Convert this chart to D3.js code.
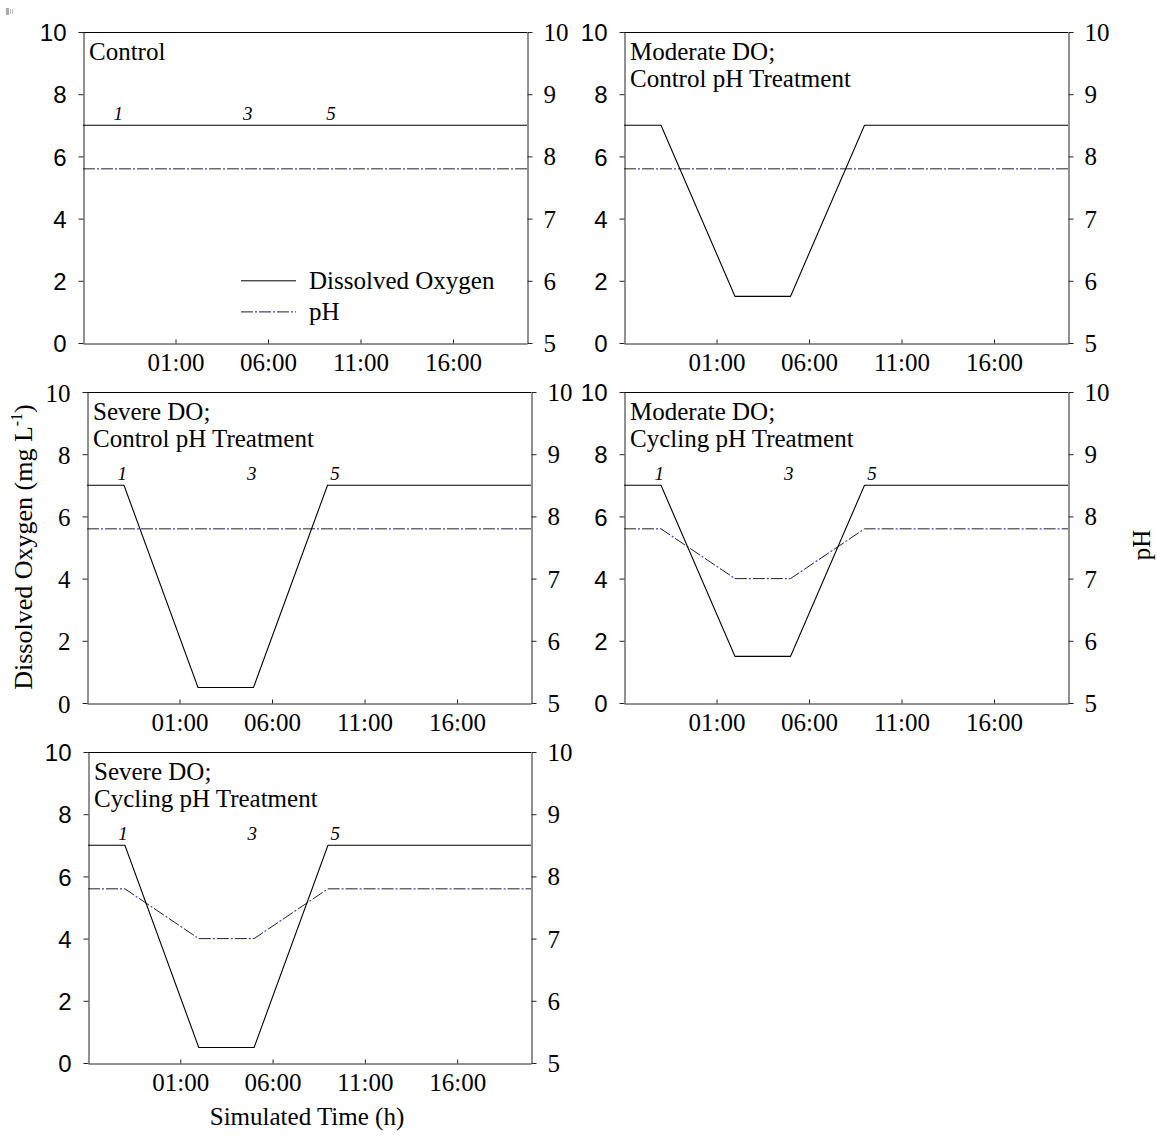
<!DOCTYPE html>
<html><head><meta charset="utf-8">
<script src="https://cdn.jsdelivr.net/npm/d3@7"></script>
<style>body{margin:0;background:#fff}svg{display:block}</style>
</head><body>
<svg id="c" width="1157" height="1135"></svg>
<script>
// ---- data ----
const hoursFromStart = [0, 2, 6, 9, 13, 24];           // hours after 20:00
const doControl  = [7, 7, 7, 7, 7, 7];
const doModerate = [7, 7, 1.5, 1.5, 7, 7];
const doSevere   = [7, 7, 0.5, 0.5, 7, 7];
const phControl  = [7.8, 7.8, 7.8, 7.8, 7.8, 7.8];
const phCycling  = [7.8, 7.8, 7.0, 7.0, 7.8, 7.8];
const sampleLabels = ["1", "3", "5"];
const sampleHours  = [1.9, 8.9, 13.4];
const doTicks = [0, 2, 4, 6, 8, 10];
const phTicks = [5, 6, 7, 8, 9, 10];
const timeTickLabels = ["01:00", "06:00", "11:00", "16:00"];
const timeTickHours  = [5, 10, 15, 20];
const panelTitles = [["Control"], ["Moderate DO;", "Control pH Treatment"], ["Severe DO;", "Control pH Treatment"], ["Moderate DO;", "Cycling pH Treatment"], ["Severe DO;", "Cycling pH Treatment"]];
const legendLabels = ["Dissolved Oxygen", "pH"];

const panels = [
  {box:[83,527,32,343],   dox:doControl,  ph:phControl, title:panelTitles[0], samples:true,  leftFont:"sans"},
  {box:[624,1068,32,343], dox:doModerate, ph:phControl, title:panelTitles[1], samples:false, leftFont:"sans"},
  {box:[87,531,392,703],  dox:doSevere,   ph:phControl, title:panelTitles[2], samples:true,  leftFont:"serif"},
  {box:[624,1068,392,703],dox:doModerate, ph:phCycling, title:panelTitles[3], samples:true,  leftFont:"sans"},
  {box:[88,531,752,1063], dox:doSevere,   ph:phCycling, title:panelTitles[4], samples:true,  leftFont:"sans"}
];

const svg = d3.select("#c");
const SERIF = "'Liberation Serif','Times New Roman',serif";
const SANS = "'Liberation Sans',Arial,sans-serif";
const FS = 25;
const t0 = new Date(2000,0,1,20,0);
const toDate = h => new Date(t0.getTime() + h*3600000);

// tiny mark top-left
svg.append("rect").attr("x",6).attr("y",8).attr("width",3).attr("height",7).attr("fill","#aaa");
svg.append("rect").attr("x",10).attr("y",9).attr("width",1).attr("height",5).attr("fill","#bbb");
svg.append("rect").attr("x",12).attr("y",9).attr("width",1).attr("height",5).attr("fill","#bbb");

panels.forEach((p, idx) => {
  const [L,R,T,B] = p.box;
  const x = d3.scaleTime().domain([toDate(0), toDate(24)]).range([L,R]);
  const y = d3.scaleLinear().domain([0,10]).range([B,T]);
  const y2 = d3.scaleLinear().domain([5,10]).range([B,T]);
  const g = svg.append("g");

  // frame top
  g.append("line").attr("x1",L).attr("x2",R).attr("y1",T+0.5).attr("y2",T+0.5).attr("stroke","#000");

  // left axis
  const la = g.append("g").attr("transform",`translate(${L+0.5},0)`)
    .call(d3.axisLeft(y).tickValues(doTicks).tickFormat(d3.format("d")).tickSize(5).tickPadding(12).tickSizeOuter(0));
  la.select(".domain").attr("stroke","#222");
  la.selectAll(".tick line").attr("stroke","#222");
  la.selectAll("text").attr("font-family", p.leftFont==="sans"?SANS:SERIF)
    .attr("font-size", p.leftFont==="sans"?24:FS).attr("fill","#000").attr("dy","0.36em");

  // right axis
  const ra = g.append("g").attr("transform",`translate(${R+0.5},0)`)
    .call(d3.axisRight(y2).tickValues(phTicks).tickFormat(d3.format("d")).tickSize(5).tickPadding(11).tickSizeOuter(0));
  ra.select(".domain").attr("stroke","#222");
  ra.selectAll(".tick line").attr("stroke","#222");
  ra.selectAll("text").attr("font-family",SERIF).attr("font-size",FS).attr("fill","#000").attr("dy","0.34em");

  // bottom axis (ticks inward)
  const ba = g.append("g").attr("transform",`translate(0,${B+0.5})`)
    .call(d3.axisBottom(x).tickValues(timeTickHours.map(toDate)).tickFormat((d,i)=>timeTickLabels[i])
      .tickSize(-4).tickPadding(10).tickSizeOuter(0));
  ba.select(".domain").attr("stroke","#222");
  ba.selectAll(".tick line").attr("stroke","#222");
  ba.selectAll("text").attr("font-family",SERIF).attr("font-size",FS).attr("fill","#000").attr("dy","0.71em");

  // pH line: dark dashes + blue dots
  const linePh = d3.line().x((d,i)=>x(toDate(hoursFromStart[i]))).y(d=>y2(d));
  g.append("path").datum(p.ph).attr("d",linePh).attr("fill","none")
    .attr("stroke","#222").attr("stroke-width",1).attr("stroke-dasharray","12,6");
  g.append("path").datum(p.ph).attr("d",linePh).attr("fill","none")
    .attr("stroke","#3a3aff").attr("stroke-width",1.2).attr("stroke-dasharray","0,14,2,2");

  // DO line
  const lineDo = d3.line().x((d,i)=>x(toDate(hoursFromStart[i]))).y(d=>y(d));
  g.append("path").datum(p.dox).attr("d",lineDo).attr("fill","none").attr("stroke","#000").attr("stroke-width",1.1);

  // title
  p.title.forEach((t,i)=>{
    g.append("text").attr("x",L+6).attr("y",T+28+i*27).text(t)
      .attr("font-family",SERIF).attr("font-size",FS).attr("fill","#000");
  });

  // sample labels
  if (p.samples) {
    sampleLabels.forEach((s,i)=>{
      g.append("text").attr("x",x(toDate(sampleHours[i]))).attr("y",y(7)-5).text(s)
        .attr("text-anchor","middle").attr("font-family",SERIF).attr("font-style","italic")
        .attr("font-size",19).attr("fill","#000");
    });
  }

  // legend in first panel
  if (idx===0) {
    const lx1 = 241, lx2 = 296;
    const ly1 = y(2.0), ly2 = y(1.0);
    g.append("line").attr("x1",lx1).attr("x2",lx2).attr("y1",ly1).attr("y2",ly1).attr("stroke","#000");
    g.append("line").attr("x1",lx1).attr("x2",lx2).attr("y1",ly2).attr("y2",ly2).attr("stroke","#222").attr("stroke-dasharray","12,6");
    g.append("line").attr("x1",lx1).attr("x2",lx2).attr("y1",ly2).attr("y2",ly2).attr("stroke","#3a3aff").attr("stroke-width",1.2).attr("stroke-dasharray","0,14,2,2");
    g.append("text").attr("x",309).attr("y",ly1+8).text(legendLabels[0]).attr("font-family",SERIF).attr("font-size",FS);
    g.append("text").attr("x",309).attr("y",ly2+8).text(legendLabels[1]).attr("font-family",SERIF).attr("font-size",FS);
  }
});

// axis titles
const yl = svg.append("text").attr("transform","translate(32,547) rotate(-90)")
  .attr("text-anchor","middle").attr("font-family",SERIF).attr("font-size",26).attr("fill","#000");
yl.append("tspan").text("Dissolved Oxygen (mg L");
yl.append("tspan").text("-1").attr("font-size",16).attr("dy","-10");
yl.append("tspan").text(")").attr("dy","10");

svg.append("text").attr("transform","translate(1150,545) rotate(-90)")
  .attr("text-anchor","middle").attr("font-family",SERIF).attr("font-size",FS).attr("fill","#000").text("pH");

svg.append("text").attr("x",307).attr("y",1125).attr("text-anchor","middle")
  .attr("font-family",SERIF).attr("font-size",FS).attr("fill","#000").text("Simulated Time (h)");
</script>
</body></html>
